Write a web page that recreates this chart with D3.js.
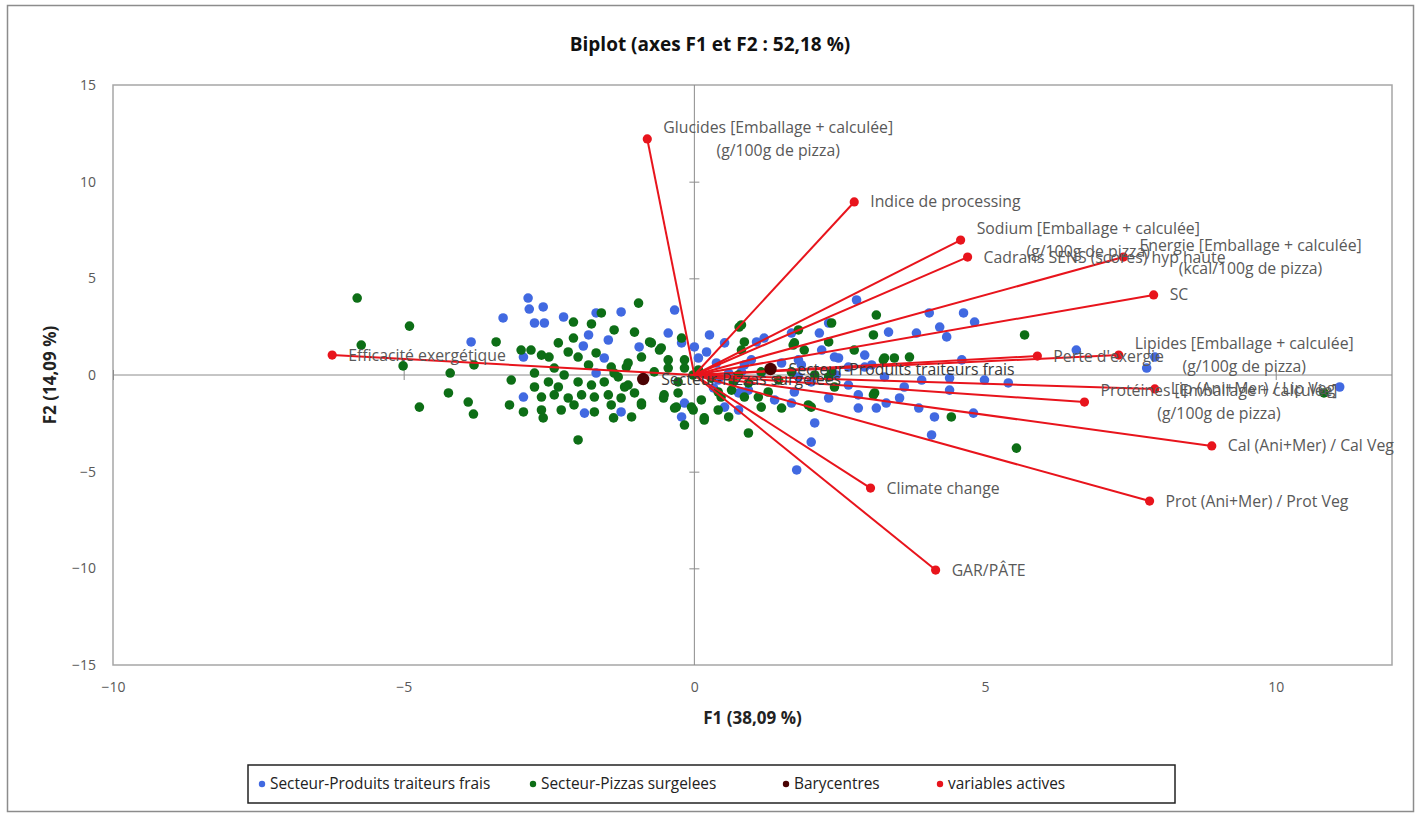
<!DOCTYPE html>
<html>
<head>
<meta charset="utf-8">
<script src="https://cdn.jsdelivr.net/npm/d3@7/dist/d3.min.js"></script>
<style>
  html, body { margin: 0; padding: 0; background: #fff; }
  svg text { font-family: "Open Sans", Lato, sans-serif; }
</style>
</head>
<body>
<svg id="chart" width="1423" height="817"></svg>
<script>
// Observations on F1/F2 — sector "Produits traiteurs frais"
const traiteurs = [
  [-2.86,3.98],[-2.84,3.41],[-2.60,3.52],[-3.29,2.95],[-2.75,2.69],[-2.58,2.69],[-2.25,3.00],
  [-3.84,1.71],[-1.26,3.26],[-1.69,3.21],[-0.34,3.36],[-0.45,2.17],[-1.82,2.07],[-1.48,1.81],
  [-0.95,1.45],[-1.91,1.50],[-0.22,1.66],[-1.55,0.88],[-1.69,0.10],[-2.94,0.93],[-2.94,-1.14],
  [-1.89,-1.97],[-0.22,-2.17],[-1.26,-1.91],[0.26,2.07],[0.52,1.66],[0.00,1.45],[0.21,1.19],
  [1.07,1.71],[1.20,1.91],[1.67,2.17],[2.15,2.17],[2.31,2.69],[2.79,3.88],[3.34,2.22],
  [3.82,2.17],[4.04,3.21],[4.63,3.21],[4.82,2.74],[4.22,2.48],[4.34,1.97],[2.19,1.29],
  [2.48,0.88],[2.93,1.03],[3.05,0.52],[2.65,0.41],[1.79,0.78],[1.50,0.62],[0.86,0.52],
  [0.81,0.16],[0.41,-0.26],[0.76,-0.93],[0.93,-0.78],[1.72,-0.88],[2.01,-0.36],[2.31,-1.19],
  [2.65,-0.52],[2.82,-1.03],[3.27,-0.10],[3.61,-0.62],[3.91,-0.26],[2.82,-1.71],[3.13,-1.71],
  [3.30,-1.45],[3.53,-1.19],[3.86,-1.71],[4.13,-2.17],[4.39,-0.16],[4.39,-0.78],[4.80,-1.97],
  [4.08,-3.10],[2.07,-2.48],[2.01,-3.47],[1.76,-4.91],[1.38,-1.29],[1.67,-1.45],[1.15,0.10],
  [1.79,-0.10],[0.52,-1.66],[0.07,0.88],[2.44,0.00],[6.57,1.29],[7.92,0.93],[7.78,0.36],
  [5.40,-0.41],[11.10,-0.62],[-0.17,-1.45],[0.33,-0.67],[0.81,-0.88],[0.76,-1.81],[1.84,0.52],
  [2.41,0.93],[2.93,0.41],[0.98,0.78],[0.59,0.10],[0.38,0.62],[4.99,-0.26],[4.60,0.78]
];

// Observations on F1/F2 — sector "Pizzas surgelées"
const pizzas = [
  [-5.80,3.98],[-4.90,2.53],[-5.73,1.55],[-5.01,0.47],[-4.20,0.10],[-4.23,-0.93],[-4.73,-1.66],
  [-3.89,-1.40],[-3.80,-2.02],[-3.41,1.71],[-3.79,0.52],[-3.15,-0.26],[-3.18,-1.55],[-2.98,1.29],
  [-2.81,1.29],[-0.96,3.72],[-2.00,-3.36],[-2.08,2.74],[-1.77,2.64],[-1.60,3.21],[-1.38,2.33],
  [-1.03,2.22],[-0.77,1.71],[-0.57,1.40],[-2.34,1.66],[-2.08,1.91],[-2.17,1.19],[-1.69,1.14],
  [-2.00,0.93],[-2.63,1.03],[-2.50,0.93],[-0.91,0.93],[-1.82,0.52],[-1.43,0.41],[-1.17,0.41],
  [-2.75,0.10],[-2.41,0.36],[-2.24,0.00],[-2.51,-0.36],[-2.75,-0.62],[-2.34,-0.62],[-2.00,-0.36],
  [-1.77,-0.52],[-1.55,-0.36],[-1.31,-0.10],[-1.14,-0.52],[-0.69,0.16],[-0.45,0.36],[-0.28,-0.36],
  [-0.17,0.36],[-0.02,0.00],[-2.63,-1.14],[-2.41,-1.03],[-2.17,-1.19],[-1.94,-1.03],[-1.72,-1.14],
  [-1.48,-1.03],[-1.26,-1.19],[-1.03,-0.93],[-0.52,-1.03],[-0.28,-0.93],[-2.94,-1.91],[-2.63,-1.81],
  [-2.29,-1.81],[-2.07,-1.55],[-1.72,-1.91],[-1.39,-2.22],[-1.08,-2.17],[-0.91,-1.55],[-2.60,-2.22],
  [-0.17,-2.59],[-0.02,-1.81],[-0.34,-1.71],[-0.74,1.66],[-0.60,1.29],[-0.22,1.91],[-0.17,0.78],
  [-0.45,0.78],[-1.14,0.62],[-1.38,0.10],[-1.20,-0.62],[-0.91,-1.45],[-1.43,-1.55],[-0.53,-1.19],
  [-0.31,-1.66],[-0.05,-1.66],[0.12,-1.29],[0.17,-2.33],[0.41,-1.81],[0.59,-2.17],[0.29,-0.16],
  [0.67,-0.36],[0.93,-3.00],[0.81,1.29],[0.86,1.71],[0.77,2.48],[1.15,0.16],[0.86,-1.14],
  [1.15,-1.66],[1.50,-1.71],[1.96,-1.55],[1.70,1.55],[2.31,-0.10],[2.41,-0.62],[2.75,1.29],
  [3.10,-0.93],[3.27,0.88],[3.44,0.88],[3.70,0.93],[4.42,-2.17],[0.81,2.59],[1.79,2.33],
  [1.72,1.66],[2.36,2.69],[2.31,1.71],[3.13,3.10],[3.08,2.07],[1.89,1.29],[3.25,0.78],
  [2.36,0.16],[3.08,-1.03],[2.01,-1.66],[0.46,-1.14],[0.17,-2.22],[0.93,-0.41],[1.27,-0.88],
  [1.10,-1.14],[0.64,-0.78],[0.41,-0.88],[1.45,-0.26],[1.67,0.16],[2.07,0.00],[0.07,0.26],
  [0.29,-0.10],[0.76,0.00],[5.68,2.07],[10.83,-0.93],[5.54,-3.78]
];

// Sector barycentres
const barycentreNames = ["Secteur-Pizzas surgelees", "Secteur-Produits traiteurs frais"];
const barycentreF1 = [-0.88, 1.31];
const barycentreF2 = [-0.21, 0.31];

// Active variables (scaled loadings on F1/F2)
const variableNames = [
  ["Glucides [Emballage + calculée]", "(g/100g de pizza)"],
  ["Indice de processing"],
  ["Sodium [Emballage + calculée]", "(g/100g de pizza)"],
  ["Cadrans SENS (scores) hyp haute"],
  ["Energie [Emballage + calculée]", "(kcal/100g de pizza)"],
  ["SC"],
  ["Lipides [Emballage + calculée]", "(g/100g de pizza)"],
  ["Perte d'exergie"],
  ["Lip (Ani+Mer) / Lip Veg"],
  ["Protéines [Emballage + calculée]", "(g/100g de pizza)"],
  ["Cal (Ani+Mer) / Cal Veg"],
  ["Prot (Ani+Mer) / Prot Veg"],
  ["Climate change"],
  ["GAR/PÂTE"],
  ["Efficacité exergétique"]
];
const variableF1 = [-0.81, 2.75, 4.58, 4.70, 7.38, 7.90, 7.30, 5.90, 7.92, 6.71, 8.90, 7.83, 3.03, 4.15, -6.23];
const variableF2 = [12.21, 8.95, 6.98, 6.10, 6.10, 4.14, 1.03, 0.98, -0.72, -1.40, -3.67, -6.52, -5.85, -10.09, 1.03];

const xTicks = [-10, -5, 0, 5, 10];
const yTicks = [-15, -10, -5, 0, 5, 10, 15];

const titleText = "Biplot (axes F1 et F2 : 52,18 %)";
const xTitle = "F1 (38,09 %)";
const yTitle = "F2 (14,09 %)";

const legendItems = [
  { label: "Secteur-Produits traiteurs frais", color: "#4169e1" },
  { label: "Secteur-Pizzas surgelees", color: "#0d6e16" },
  { label: "Barycentres", color: "#4a0303" },
  { label: "variables actives", color: "#e8141c" }
];

const COL_BLUE = legendItems[0].color;
const COL_GREEN = legendItems[1].color;
const COL_BARY = legendItems[2].color;
const COL_RED = legendItems[3].color;
const COL_AXIS = "#a6a6a6";
const COL_TEXT = "#595959";
const FONT = "\"Open Sans\", Lato, sans-serif";

const svg = d3.select("#chart");

// chart area frame
svg.append("rect").attr("x", 7.5).attr("y", 5.5).attr("width", 1406).attr("height", 806)
  .attr("fill", "#fff").attr("stroke", "#8c8c8c").attr("stroke-width", 1.5);

const plot = { left: 113, right: 1392, top: 85, bottom: 665 };
const x = d3.scaleLinear().domain([-10, 12]).range([plot.left, plot.right]);
const y = d3.scaleLinear().domain([-15, 15]).range([plot.bottom, plot.top]);

// title
svg.append("text").attr("x", 710).attr("y", 51).attr("text-anchor", "middle")
  .attr("font-size", 19).attr("font-weight", "bold").attr("fill", "#111").text(titleText);

// plot frame
svg.append("rect").attr("x", plot.left).attr("y", plot.top)
  .attr("width", plot.right - plot.left).attr("height", plot.bottom - plot.top)
  .attr("fill", "none").attr("stroke", COL_AXIS).attr("stroke-width", 1.5);

// tick labels at the frame edges
const xLab = svg.append("g").attr("transform", `translate(0,${plot.bottom + 14})`)
  .call(d3.axisBottom(x).tickValues(xTicks).tickSize(0).tickFormat(d3.format("d")));
xLab.select(".domain").remove();
xLab.selectAll("text").attr("font-size", 14).attr("fill", COL_TEXT).attr("font-family", FONT);

const yLab = svg.append("g").attr("transform", `translate(${plot.left - 14},0)`)
  .call(d3.axisLeft(y).tickValues(yTicks).tickSize(0).tickFormat(d3.format("d")));
yLab.select(".domain").remove();
yLab.selectAll("text").attr("font-size", 14).attr("fill", COL_TEXT).attr("font-family", FONT);

// zero lines with crossing ticks
const xZero = svg.append("g").attr("transform", `translate(0,${y(0)})`)
  .call(d3.axisBottom(x).tickValues(xTicks.filter(v => v !== 0)).tickSizeInner(5).tickSizeOuter(0).tickFormat(""));
xZero.select(".domain").attr("stroke", "#8c8c8c").attr("d", `M${plot.left},0H${plot.right}`);
xZero.selectAll(".tick line").attr("stroke", "#8c8c8c").attr("y1", -5).attr("y2", 5);

const yZero = svg.append("g").attr("transform", `translate(${x(0)},0)`)
  .call(d3.axisLeft(y).tickValues(yTicks.filter(v => v !== 0 && Math.abs(v) !== 15)).tickSizeInner(5).tickSizeOuter(0).tickFormat(""));
yZero.select(".domain").attr("stroke", "#8c8c8c").attr("d", `M0,${plot.top}V${plot.bottom}`);
yZero.selectAll(".tick line").attr("stroke", "#8c8c8c").attr("x1", -5).attr("x2", 5);

// axis titles
svg.append("text").attr("x", (plot.left + plot.right) / 2).attr("y", 724).attr("text-anchor", "middle")
  .attr("font-size", 17).attr("font-weight", "bold").attr("fill", "#222").text(xTitle);
svg.append("text").attr("transform", `translate(56,${(plot.top + plot.bottom) / 2}) rotate(-90)`)
  .attr("text-anchor", "middle").attr("font-size", 17).attr("font-weight", "bold").attr("fill", "#222").text(yTitle);

// observations
const obs = svg.append("g");
obs.selectAll("circle.t").data(traiteurs).join("circle").attr("class", "t")
  .attr("cx", d => x(d[0])).attr("cy", d => y(d[1])).attr("r", 4.8).attr("fill", COL_BLUE);
obs.selectAll("circle.p").data(pizzas).join("circle").attr("class", "p")
  .attr("cx", d => x(d[0])).attr("cy", d => y(d[1])).attr("r", 4.8).attr("fill", COL_GREEN);

// variable vectors
const variables = variableNames.map((lines, i) => ({ lines, f1: variableF1[i], f2: variableF2[i] }));
const vec = svg.append("g");
vec.selectAll("line").data(variables).join("line")
  .attr("x1", x(0)).attr("y1", y(0))
  .attr("x2", d => x(d.f1)).attr("y2", d => y(d.f2))
  .attr("stroke", COL_RED).attr("stroke-width", 2);
vec.selectAll("circle").data(variables).join("circle")
  .attr("cx", d => x(d.f1)).attr("cy", d => y(d.f2)).attr("r", 4.6).attr("fill", COL_RED);

// barycentres
const bary = barycentreNames.map((n, i) => ({ n, f1: barycentreF1[i], f2: barycentreF2[i] }));
svg.append("g").selectAll("circle").data(bary).join("circle")
  .attr("cx", d => x(d.f1)).attr("cy", d => y(d.f2)).attr("r", 6.2).attr("fill", COL_BARY);

// labels
const labelSize = 15.8;
const lineGap = 23;
const labels = svg.append("g");
variables.forEach(d => {
  const g = labels.append("g").attr("transform", `translate(${x(d.f1) + 16},${y(d.f2)})`);
  const n = d.lines.length;
  const t = g.append("text").attr("font-size", labelSize).attr("fill", COL_TEXT);
  d.lines.forEach((s, k) => {
    t.append("tspan").attr("x", 0).attr("y", (k - (n - 1) / 2) * lineGap).attr("dy", "0.35em").text(s);
  });
  if (n > 1) {
    const widths = [];
    t.selectAll("tspan").each(function () { widths.push(this.getComputedTextLength()); });
    const w = d3.max(widths);
    t.selectAll("tspan").attr("x", w / 2).attr("text-anchor", "middle");
  }
});
bary.forEach(d => {
  labels.append("text").attr("x", x(d.f1) + 18).attr("y", y(d.f2)).attr("dy", "0.35em")
    .attr("font-size", labelSize).attr("fill", "#3a3a3a").text(d.n);
});

// legend
const lg = svg.append("g");
lg.append("rect").attr("x", 248).attr("y", 765).attr("width", 927).attr("height", 38)
  .attr("fill", "#fff").attr("stroke", "#222").attr("stroke-width", 1.5);
const legendX = [262, 533, 786, 940];
legendItems.forEach((it, i) => {
  lg.append("circle").attr("cx", legendX[i]).attr("cy", 784).attr("r", 3.2).attr("fill", it.color);
  lg.append("text").attr("x", legendX[i] + 8).attr("y", 784).attr("dy", "0.35em")
    .attr("font-size", 15.4).attr("fill", "#222").text(it.label);
});
</script>
</body>
</html>
